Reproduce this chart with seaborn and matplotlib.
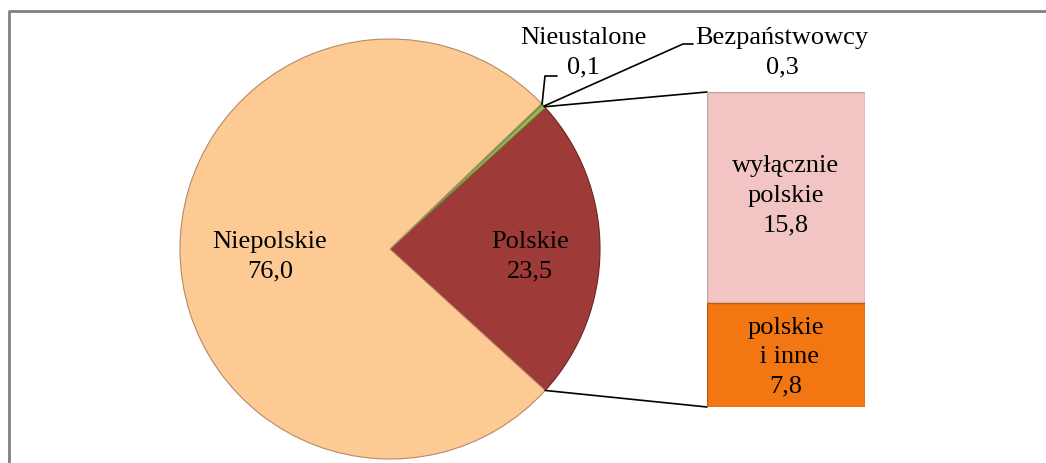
import numpy as np
import matplotlib
matplotlib.use("Agg")
import matplotlib.pyplot as plt
import seaborn as sns
import pandas as pd

# pie data (share of population, %)
pie_labels = ["Polskie", "Bezpaństwowcy", "Nieustalone", "Niepolskie"]
pie_values = [23.5, 0.3, 0.1, 76.0]
pie_colors = ["#9E3A38", "#9BBB59", "#7FA04A", "#FDCA94"]

# breakdown of "Polskie"
bar_labels = ["wyłącznie\npolskie", "polskie\n i inne"]
bar_values = [15.8, 7.8]
bar_colors = ["#F2C4C4", "#F27712"]

sns.set_theme(style="white")
plt.rcParams['font.family'] = ['Liberation Serif', 'DejaVu Serif']
plt.rcParams['text.color'] = 'black'

W, H = 1046, 464
fig = plt.figure(figsize=(W / 100, H / 100), dpi=100)
ax = fig.add_axes([0, 0, 1, 1])

cx, cy, r = 390, H - 250, 210
total = sum(pie_values)
pol_ang = pie_values[0] / total * 360
start = -pol_ang / 2

wedges, _ = ax.pie(pie_values, colors=pie_colors, startangle=start, counterclock=True,
                   center=(cx, cy), radius=r, frame=True,
                   wedgeprops=dict(edgecolor="#B58A66", linewidth=0.8))
wedges[0].set_edgecolor("#6E2422")
wedges[1].set_edgecolor("#6E8F3C")
wedges[2].set_edgecolor("#6E8F3C")
ax.set_xlim(0, W)
ax.set_ylim(0, H)
ax.set_aspect("equal")
ax.axis("off")

fs = 19
ls = 1.45

def fmt(v):
    return f"{v:.1f}".replace(".", ",")

def edge(a):
    a = np.radians(a)
    return cx + r * np.cos(a), cy + r * np.sin(a)

ax.text(270, H - 257, f"Niepolskie\n{fmt(pie_values[3])}", ha="center", va="center",
        fontsize=fs, linespacing=ls, color="black")
ax.text(530, H - 257, f"Polskie\n{fmt(pie_values[0])}", ha="center", va="center",
        fontsize=fs, linespacing=ls, color="black")

# small slices: labels with leader lines
ang_bez = start + pol_ang + pie_values[1] / total * 180
ang_nie = start + pol_ang + (pie_values[1] + pie_values[2] / 2) / total * 360
ex, ey = edge(ang_nie)
ax.plot([ex, 545, 557], [ey, H - 77, H - 77], color="black", lw=1.2)
bx, by = edge(ang_bez)
ax.plot([bx, 683, 693], [by, H - 45, H - 45], color="black", lw=1.2)
ax.text(583, H - 53, f"{pie_labels[2]}\n{fmt(pie_values[2])}", ha="center", va="center",
        fontsize=fs, linespacing=ls, color="black")
ax.text(782, H - 53, f"{pie_labels[1]}\n{fmt(pie_values[1])}", ha="center", va="center",
        fontsize=fs, linespacing=ls, color="black")

# stacked bar
bl, bt, bw, bh = 707, 93, 158, 315
bax = fig.add_axes([bl / W, (H - bt - bh) / H, bw / W, bh / H])
df = pd.DataFrame({"x": [0], "total": [sum(bar_values)], "low": [bar_values[1]]})
sns.barplot(data=df, x="x", y="total", color=bar_colors[0], width=1, saturation=1,
            edgecolor="#C9A0A0", linewidth=1, ax=bax)
sns.barplot(data=df, x="x", y="low", color=bar_colors[1], width=1, saturation=1,
            edgecolor="#B85A10", linewidth=1, ax=bax)
bax.set_xlim(-0.5, 0.5)
bax.set_ylim(0, sum(bar_values))
bax.axis("off")
bax.text(0, bar_values[1] + bar_values[0] / 2 + 0.2, f"{bar_labels[0]}\n{fmt(bar_values[0])}",
         ha="center", va="center", fontsize=fs, linespacing=ls, color="black")
bax.text(0, bar_values[1] / 2 - 0.1, f"{bar_labels[1]}\n{fmt(bar_values[1])}",
         ha="center", va="center", fontsize=fs, linespacing=ls, color="black")

# connectors from pie to bar
ux, uy = edge(start + pol_ang + 0.3)
lx, ly = edge(start)
ax.plot([ux, bl], [uy, H - bt], color="black", lw=1.2)
ax.plot([lx, bl], [ly, H - bt - bh], color="black", lw=1.2)

# frame
ax.plot([8.5, 8.5, W], [0, H - 11.5, H - 11.5], color="#808080", lw=2, clip_on=False)

fig.savefig("out.png", dpi=100)
